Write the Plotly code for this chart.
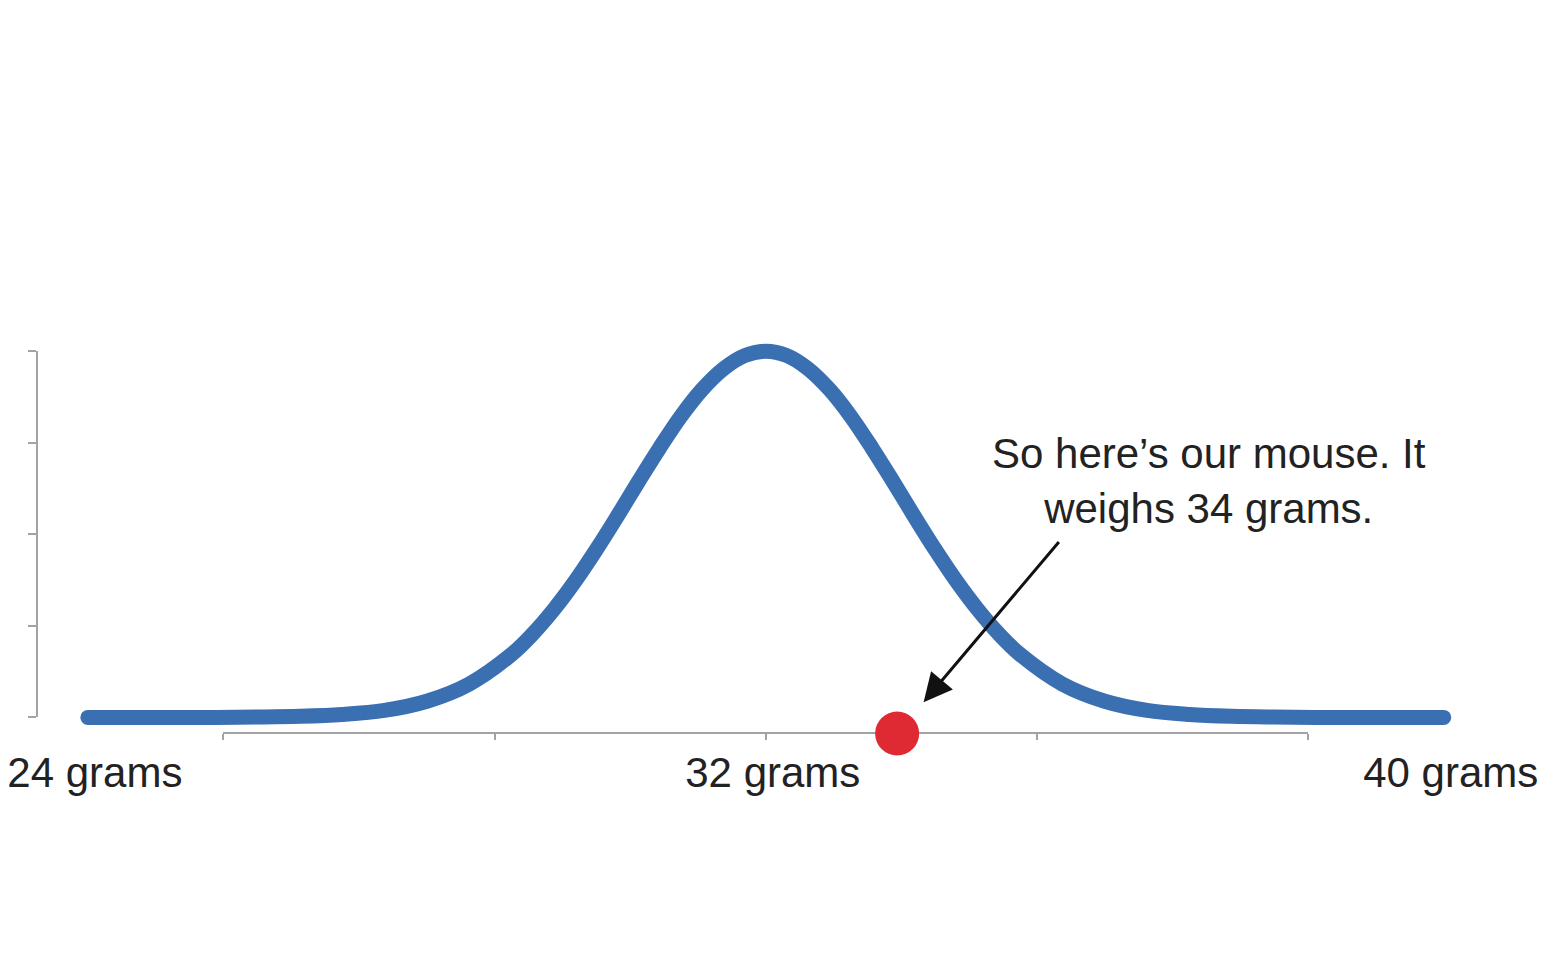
import plotly.graph_objects as go

# Weight of mice (grams) and relative height of the curve
weights = [24.0, 24.5, 25.0, 25.5, 26.0, 26.5, 27.0, 27.5, 28.0, 28.5, 29.0,
           29.25, 29.5, 29.75, 30.0, 30.25, 30.5, 30.75, 31.0, 31.25, 31.5, 31.75,
           32.0, 32.25, 32.5, 32.75, 33.0, 33.25, 33.5, 33.75, 34.0, 34.25, 34.5,
           34.75, 35.0, 35.5, 36.0, 36.5, 37.0, 37.5, 38.0, 38.5, 39.0, 39.5, 40.0]
heights = [0.0, 0.0, 0.0, 0.0, 0.001, 0.003, 0.008, 0.019, 0.044, 0.091, 0.172,
           0.228, 0.295, 0.372, 0.458, 0.550, 0.645, 0.737, 0.823, 0.896, 0.952, 0.988,
           1.0, 0.988, 0.952, 0.896, 0.823, 0.737, 0.645, 0.550, 0.458, 0.372, 0.295,
           0.228, 0.172, 0.091, 0.044, 0.019, 0.008, 0.003, 0.001, 0.0, 0.0, 0.0, 0.0]

label_vals = [24, 32, 40]
label_text = ['24 grams', '32 grams', '40 grams']

# the thin axis under the curve and the one on the left
axis_ticks_x = [25.6, 28.8, 32.0, 35.2, 38.4]
axis_ticks_y = [0, 0.25, 0.5, 0.75, 1.0]

mouse_weight = 33.55
mouse_level = -0.044          # the dot sits on the bottom axis line
note = "So here\u2019s our mouse. It<br>weighs 34 grams."

X_RANGE = [23.4, 40.9]
Y_RANGE = [-0.1, 1.14]

FONT = 'Liberation Sans, Arial, Helvetica, sans-serif'
BLUE = '#3a6fb1'
AXIS_GREY = '#a3a3a3'
TEXT = '#222222'


def frac(v, rng):
    return (v - rng[0]) / (rng[1] - rng[0])


fig = go.Figure()

# empty trace so the x/y pair (the drawn axis lines) gets a subplot
fig.add_trace(go.Scatter(x=[], y=[], xaxis='x', yaxis='y',
                         hoverinfo='skip', showlegend=False))

# the bell curve
fig.add_trace(go.Scatter(
    x=weights, y=heights, mode='lines', xaxis='x2', yaxis='y2',
    line=dict(color=BLUE, width=15, shape='spline', smoothing=1.0),
    hoverinfo='skip', showlegend=False))

# round caps at both ends
fig.add_trace(go.Scatter(
    x=[weights[0], weights[-1]], y=[heights[0], heights[-1]], mode='markers',
    xaxis='x2', yaxis='y2',
    marker=dict(color=BLUE, size=15), hoverinfo='skip', showlegend=False))

# the mouse
fig.add_trace(go.Scatter(
    x=[mouse_weight], y=[mouse_level], mode='markers',
    xaxis='x2', yaxis='y2', cliponaxis=False,
    marker=dict(color='#df2a33', size=44, line=dict(width=0)),
    hoverinfo='skip', showlegend=False))

axis_level = frac(mouse_level, Y_RANGE)

fig.update_layout(
    width=1563, height=960,
    margin=dict(l=29, r=51, t=292, b=214),
    paper_bgcolor='white', plot_bgcolor='rgba(0,0,0,0)',
    font=dict(family=FONT, color=TEXT),
    # visible axis lines
    xaxis=dict(range=[axis_ticks_x[0], axis_ticks_x[-1]],
               domain=[frac(axis_ticks_x[0], X_RANGE), frac(axis_ticks_x[-1], X_RANGE)],
               anchor='free', position=axis_level, automargin=False,
               showline=True, linecolor=AXIS_GREY, linewidth=1.5,
               ticks='outside', ticklen=6, tickwidth=1.5, tickcolor=AXIS_GREY,
               tickvals=axis_ticks_x, showticklabels=False,
               showgrid=False, zeroline=False),
    yaxis=dict(range=[axis_ticks_y[0], axis_ticks_y[-1]],
               domain=[frac(axis_ticks_y[0], Y_RANGE), frac(axis_ticks_y[-1], Y_RANGE)],
               anchor='free', position=0, automargin=False,
               showline=True, linecolor=AXIS_GREY, linewidth=1.5,
               ticks='outside', ticklen=8, tickwidth=1.5, tickcolor=AXIS_GREY,
               tickvals=axis_ticks_y, showticklabels=False,
               showgrid=False, zeroline=False),
    # data axes
    xaxis2=dict(range=X_RANGE, domain=[0, 1], anchor='free', position=axis_level,
                automargin=False, showgrid=False, zeroline=False, showline=False,
                tickvals=label_vals, ticktext=label_text, ticklabelshift=7,
                ticklabeloverflow='allow',
                ticks='outside', ticklen=2, tickcolor='rgba(0,0,0,0)',
                tickfont=dict(size=42, color=TEXT, family=FONT)),
    yaxis2=dict(range=Y_RANGE, domain=[0, 1], anchor='x2', visible=False),
)

# the note and its arrow pointing at the mouse
fig.add_annotation(x=37.23, y=0.645, xref='x2', yref='y2', text=note,
                   showarrow=False, xanchor='center', yanchor='middle',
                   font=dict(size=42, color=TEXT, family=FONT))
fig.add_annotation(x=mouse_weight, y=mouse_level, xref='x2', yref='y2', text='',
                   showarrow=True, ax=163, ay=-193, standoff=41,
                   arrowhead=2, arrowsize=1.9, arrowwidth=3, arrowcolor='#111111')

fig.write_html("out.html")
